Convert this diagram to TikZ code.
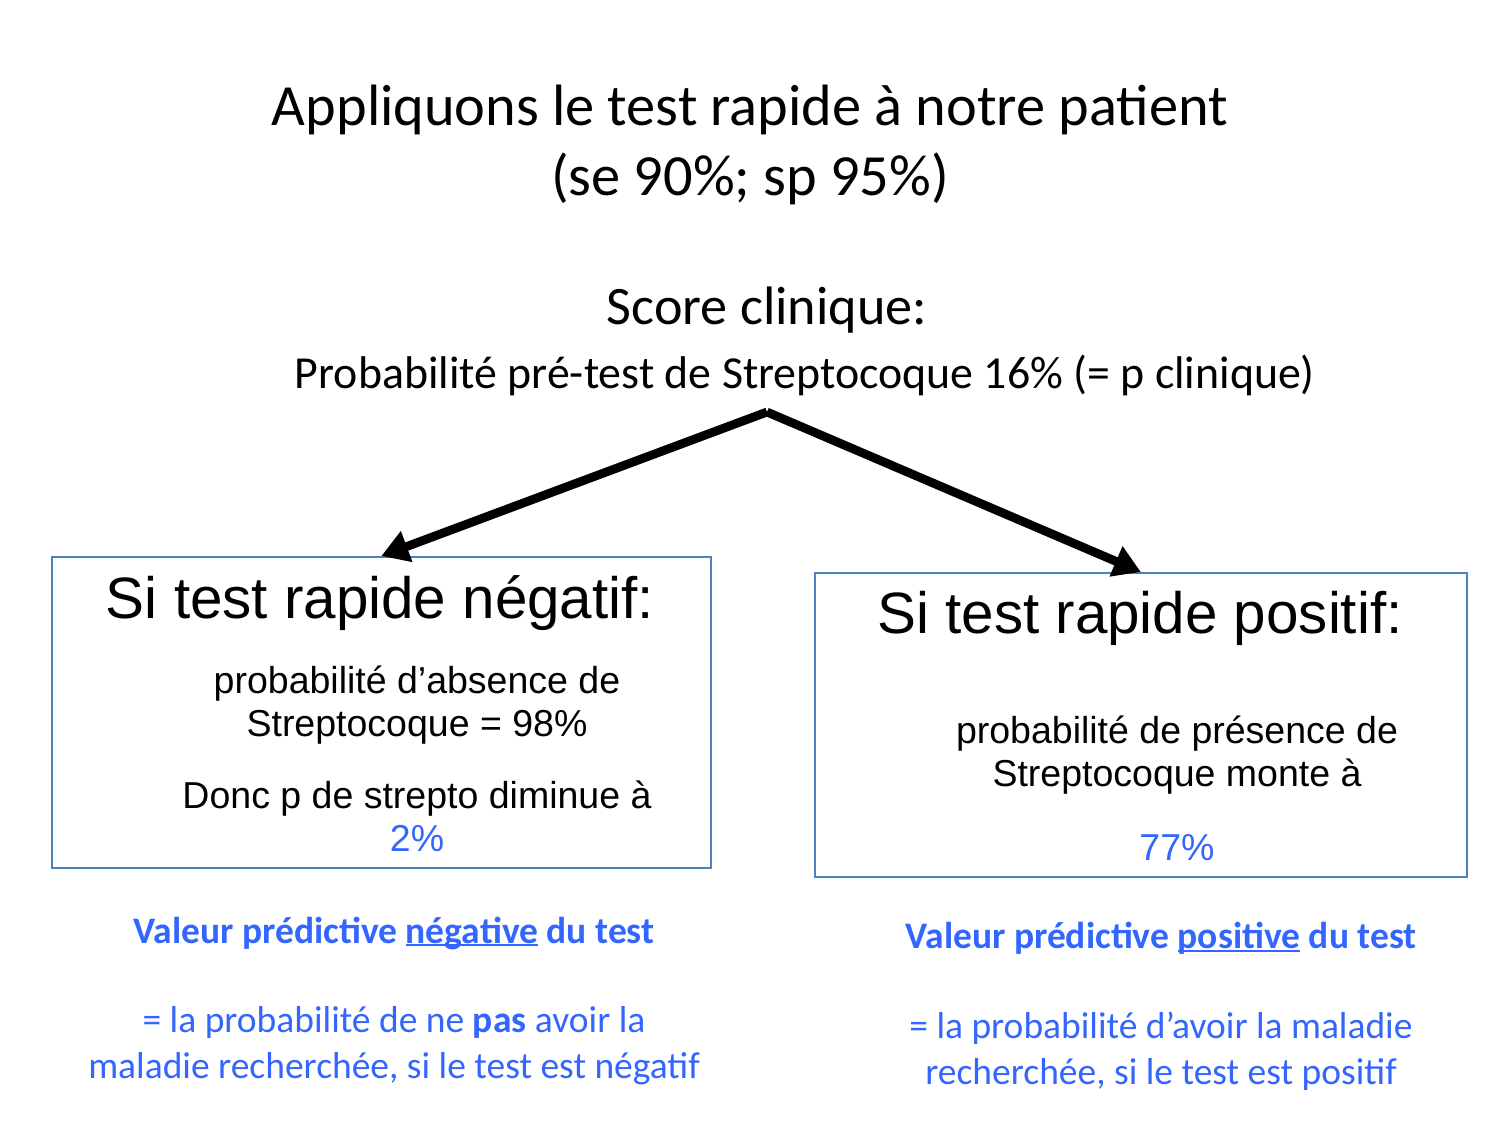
\documentclass[tikz,border=0pt]{standalone}
\usepackage{fontspec}
\setmainfont{Carlito}
\newfontfamily\arialfont{Liberation Sans}
\usetikzlibrary{arrows.meta}

\definecolor{bleutexte}{RGB}{51,102,255}
\definecolor{bleucadre}{RGB}{79,129,189}

% soulignement proche de la ligne de base
\newcommand\souligne[1]{\setbox0\hbox{#1}\rlap{\rule[-1.6pt]{\wd0}{0.9pt}}#1}

\tikzset{
	cadre/.style={draw=bleucadre,line width=0.8pt,anchor=north west},
	fleche/.style={-{Triangle[length=13pt,width=15pt]},line width=4.2pt},
	titre/.style={align=center,font=\fontsize{28}{33.6}\selectfont},
	grand/.style={font=\arialfont\fontsize{28}{33}\selectfont},
	petit/.style={align=center,font=\arialfont\fontsize{18}{20.5}\selectfont},
	bleu/.style={align=center,text=bleutexte,font=\fontsize{18}{22}\selectfont}
}

\begin{document}
\begin{tikzpicture}[x=0.48pt,y=-0.48pt]
	\useasboundingbox (0,0) rectangle (1500,1125);
	% titre
	\node[titre] (titre) at (750,145) {Appliquons le test rapide à notre patient\\(se 90\%; sp 95\%)};
	\node[font=\fontsize{26}{31}\selectfont] (score) at (767,310) {Score clinique:};
	\node[font=\fontsize{22}{26}\selectfont] (pretest) at (805,375) {Probabilité pré-test de Streptocoque 16\% (= p clinique)};
	\coordinate (sommet) at (767,412);

	% les deux cadres
	\node[cadre,minimum width=316.3pt,minimum height=149.3pt] (negbox) at (51,556) {};
	\node[cadre,minimum width=313pt,minimum height=145.9pt] (posbox) at (814,572) {};
	\draw[fleche] (sommet) -- (negbox.north);
	\draw[fleche] (sommet) -- (posbox.north);

	\node[grand] (negtitre) at (380,603) {Si test rapide négatif:};
	\node[petit] (negabs) at (417,705) {probabilité d’absence de\\Streptocoque = 98\%};
	\node[petit] (negdonc) at (417,816) {Donc p de strepto diminue à\\\textcolor{bleutexte}{2\%}};

	\node[grand] (postitre) at (1140,618) {Si test rapide positif:};
	\node[petit] (pospres) at (1177,755) {probabilité de présence de\\Streptocoque monte à};
	\node[petit,text=bleutexte] (posval) at (1177,848) {77\%};

	% valeurs predictives
	\node[bleu,font=\bfseries\fontsize{18}{22}\selectfont] (vpn) at (394,933) {Valeur prédictive \souligne{négative} du test};
	\node[bleu] (vpndef) at (394,1046) {= la probabilité de ne \textbf{pas} avoir la\\maladie recherchée, si le test est négatif};
	\node[bleu,font=\bfseries\fontsize{18}{22}\selectfont] (vpp) at (1161,938) {Valeur prédictive \souligne{positive} du test};
	\node[bleu] (vppdef) at (1161,1051) {= la probabilité d’avoir la maladie\\recherchée, si le test est positif};
\end{tikzpicture}
\end{document}
